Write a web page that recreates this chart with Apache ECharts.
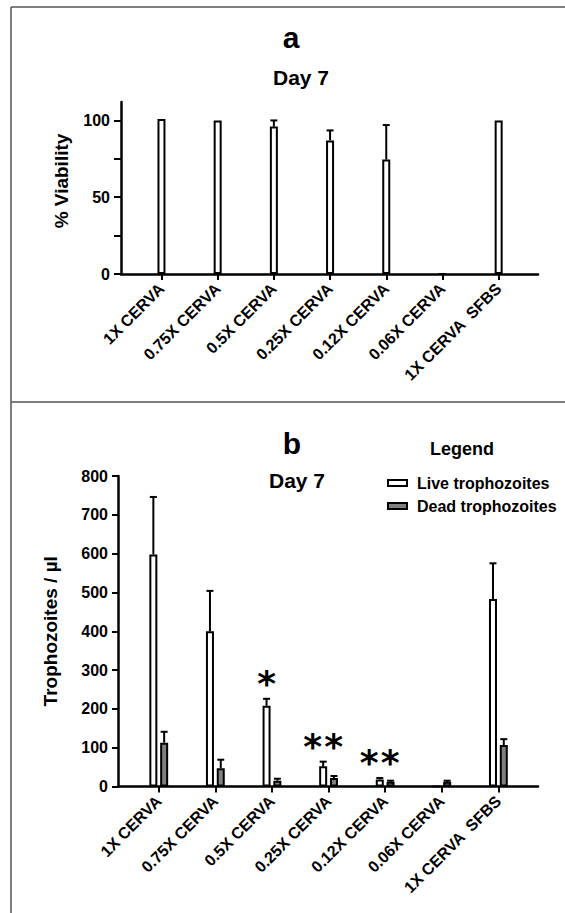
<!DOCTYPE html>
<html>
<head>
<meta charset="utf-8">
<script src="https://cdn.jsdelivr.net/npm/echarts@6/dist/echarts.min.js"></script>
<style>
  html, body { margin: 0; padding: 0; background: #fff; }
  #chart { width: 565px; height: 913px; }
</style>
</head>
<body>
<div id="chart"></div>
<script>
// categories shared by both panels
var categories = ['1X CERVA', '0.75X CERVA', '0.5X CERVA', '0.25X CERVA', '0.12X CERVA', '0.06X CERVA', '1X CERVA  SFBS'];

// panel a: % viability on day 7 (mean and upper SD)
var viability = [101, 100, 96, 87, 74.5, 0, 100];
var viabilitySd = [0, 0, 4, 6.5, 22.5, 0, 0];

// panel b: trophozoites / µl on day 7
var live = [598, 400, 208, 52, 18, 0, 483];
var liveSd = [148, 104, 18, 12, 4, 0, 92];
var dead = [113, 47, 15, 22, 12, 12, 107];
var deadSd = [28, 22, 5, 5, 3, 3, 15];
var signif = ['', '', '*', '**', '**', '', ''];

var aTicks = [0, 25, 50, 75, 100];
var aLabels = [0, 50, 100];
var bTicks = [0, 100, 200, 300, 400, 500, 600, 700, 800];

var FONT = '"Liberation Sans", Arial, sans-serif';
var BAR_W = 8;
var BAR_GAP = 0.35;

var catIdx = categories.map(function (c, i) { return i; });

function pairs(vals) {
  return vals.map(function (v, i) { return [i, v]; });
}
function errRows(vals, sds, marks) {
  return vals.map(function (v, i) { return [i, v, v + sds[i], marks ? marks[i] : '']; });
}

function errorBar(offset) {
  return function (params, api) {
    var mean = api.value(1), top = api.value(2);
    var p0 = api.coord([api.value(0), mean]);
    var p1 = api.coord([api.value(0), top]);
    var cx = p0[0] + offset;
    var children = [];
    if (top > mean) {
      children.push({
        type: 'line', shape: { x1: cx, y1: p0[1], x2: cx, y2: p1[1] },
        style: { stroke: '#000', lineWidth: 2 }
      });
      children.push({
        type: 'line', shape: { x1: cx - 3.5, y1: p1[1], x2: cx + 3.5, y2: p1[1] },
        style: { stroke: '#000', lineWidth: 2 }
      });
    }
    // significance stars, one glyph per star
    var mark = String(api.value(3) || '');
    for (var k = 0; k < mark.length; k++) {
      children.push({
        type: 'text', x: cx + (k - (mark.length - 1) / 2) * 21, y: p1[1] - 15,
        style: {
          text: mark[k], fill: '#000',
          font: 'bold 36px "DejaVu Sans", sans-serif', align: 'center', verticalAlign: 'middle'
        }
      });
    }
    return { type: 'group', children: children };
  };
}

function catAxis(grid) {
  return {
    type: 'value', gridIndex: grid, min: -0.72, max: 6.7,
    splitLine: { show: false },
    axisLine: { show: true, onZero: true, lineStyle: { color: '#000', width: 2.5 } },
    axisTick: { show: true, customValues: catIdx, length: 6, lineStyle: { color: '#000', width: 2 } },
    axisLabel: {
      customValues: catIdx, rotate: 45, margin: 12,
      color: '#000', fontWeight: 'bold', fontSize: 16, fontFamily: FONT,
      formatter: function (v) { return categories[Math.round(v)]; }
    }
  };
}

var chart = echarts.init(document.getElementById('chart'), null, { renderer: 'svg' });

var option = {
  animation: false,
  backgroundColor: '#fff',
  textStyle: { fontFamily: FONT },
  grid: [
    { left: 121, top: 102, width: 417, height: 172 },
    { left: 118, top: 476, width: 420, height: 310.5 }
  ],
  xAxis: [catAxis(0), catAxis(1)],
  yAxis: [
    {
      type: 'value', gridIndex: 0, min: 0, max: 112,
      name: '% Viability', nameLocation: 'middle', nameGap: 50,
      nameTextStyle: { color: '#000', fontWeight: 'bold', fontSize: 19, fontFamily: FONT, padding: [0, 0, 0, 14] },
      splitLine: { show: false },
      axisLine: { show: true, onZero: false, lineStyle: { color: '#000', width: 2.5 } },
      axisTick: { show: true, customValues: aTicks, length: 7, lineStyle: { color: '#000', width: 2 } },
      axisLabel: { customValues: aLabels, margin: 11, color: '#000', fontWeight: 'bold', fontSize: 16, fontFamily: FONT }
    },
    {
      type: 'value', gridIndex: 1, min: 0, max: 800,
      name: 'Trophozoites / µl', nameLocation: 'middle', nameGap: 58,
      nameTextStyle: { color: '#000', fontWeight: 'bold', fontSize: 19, fontFamily: FONT },
      splitLine: { show: false },
      axisLine: { show: true, onZero: false, lineStyle: { color: '#000', width: 2.5 } },
      axisTick: { show: true, customValues: bTicks, length: 6, lineStyle: { color: '#000', width: 2 } },
      axisLabel: { customValues: bTicks, margin: 10, color: '#000', fontWeight: 'bold', fontSize: 16, fontFamily: FONT }
    }
  ],
  legend: {
    data: ['Live trophozoites', 'Dead trophozoites'],
    orient: 'vertical', left: 382, top: 470,
    itemWidth: 19, itemHeight: 6, itemGap: 7,
    icon: 'rect',
    textStyle: { color: '#000', fontWeight: 'bold', fontSize: 16, fontFamily: FONT, padding: [0, 0, 0, 5] }
  },
  graphic: [
    { type: 'line', shape: { x1: 11, y1: 7, x2: 565, y2: 7 }, style: { stroke: '#555', lineWidth: 1.5 } },
    { type: 'line', shape: { x1: 11, y1: 7, x2: 11, y2: 913 }, style: { stroke: '#555', lineWidth: 1.5 } },
    { type: 'line', shape: { x1: 11, y1: 402, x2: 565, y2: 402 }, style: { stroke: '#555', lineWidth: 1.5 } },
    { type: 'text', x: 291, y: 37, style: { text: 'a', font: 'bold 30px ' + FONT, fill: '#000', textAlign: 'center', textVerticalAlign: 'middle', align: 'center', verticalAlign: 'middle' } },
    { type: 'text', x: 301, y: 77, style: { text: 'Day 7', font: 'bold 21px ' + FONT, fill: '#000', textAlign: 'center', textVerticalAlign: 'middle', align: 'center', verticalAlign: 'middle' } },
    { type: 'text', x: 292, y: 443, style: { text: 'b', font: 'bold 30px ' + FONT, fill: '#000', textAlign: 'center', textVerticalAlign: 'middle', align: 'center', verticalAlign: 'middle' } },
    { type: 'text', x: 297, y: 480, style: { text: 'Day 7', font: 'bold 21px ' + FONT, fill: '#000', textAlign: 'center', textVerticalAlign: 'middle', align: 'center', verticalAlign: 'middle' } },
    { type: 'text', x: 462, y: 449, style: { text: 'Legend', font: 'bold 18px ' + FONT, fill: '#000', textAlign: 'center', textVerticalAlign: 'middle', align: 'center', verticalAlign: 'middle' } }
  ],
  series: [
    {
      name: 'Viability', type: 'bar', xAxisIndex: 0, yAxisIndex: 0,
      barWidth: BAR_W, data: pairs(viability),
      itemStyle: { color: '#fff', borderColor: '#000', borderWidth: 2 }
    },
    {
      name: 'viabilitySd', type: 'custom', xAxisIndex: 0, yAxisIndex: 0, z: 5,
      encode: { x: 0, y: [1, 2] }, data: errRows(viability, viabilitySd),
      renderItem: errorBar(0)
    },
    {
      name: 'Live trophozoites', type: 'bar', xAxisIndex: 1, yAxisIndex: 1,
      barWidth: BAR_W, barGap: (BAR_GAP * 100) + '%', data: pairs(live),
      itemStyle: { color: '#fff', borderColor: '#000', borderWidth: 2 }
    },
    {
      name: 'Dead trophozoites', type: 'bar', xAxisIndex: 1, yAxisIndex: 1,
      barWidth: BAR_W, barGap: (BAR_GAP * 100) + '%', data: pairs(dead),
      itemStyle: { color: '#808080', borderColor: '#000', borderWidth: 2 }
    },
    {
      name: 'liveSd', type: 'custom', xAxisIndex: 1, yAxisIndex: 1, z: 5,
      encode: { x: 0, y: [1, 2] }, data: errRows(live, liveSd, signif),
      renderItem: errorBar(-(BAR_W * (1 + BAR_GAP)) / 2)
    },
    {
      name: 'deadSd', type: 'custom', xAxisIndex: 1, yAxisIndex: 1, z: 5,
      encode: { x: 0, y: [1, 2] }, data: errRows(dead, deadSd),
      renderItem: errorBar((BAR_W * (1 + BAR_GAP)) / 2)
    }
  ]
};

chart.setOption(option);
</script>
</body>
</html>
